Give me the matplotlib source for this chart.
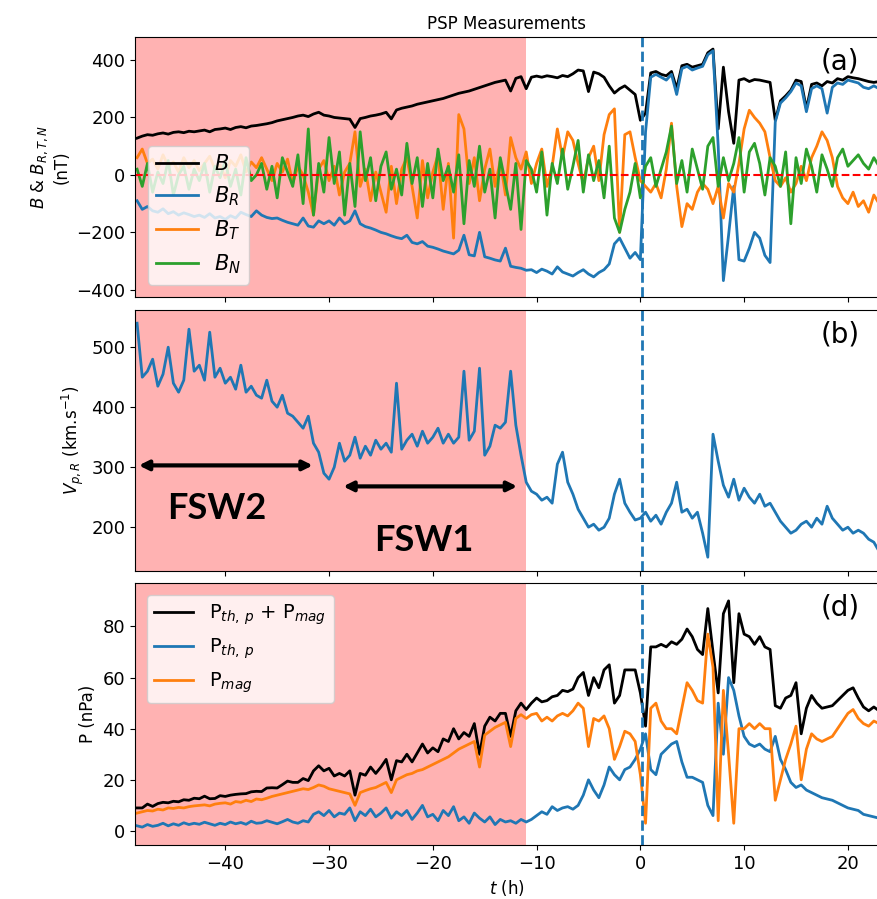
import numpy as np
import matplotlib
matplotlib.use("Agg")
import matplotlib.pyplot as plt

# time grid (hours), 0.5 h steps
t = np.arange(-48.5, 23.01, 0.5)

B = [128, 135, 140, 138, 143, 146, 142, 148, 150, 147, 152, 150,
     153, 156, 150, 158, 160, 163, 158, 165, 168, 164, 170, 172,
     175, 178, 182, 188, 192, 196, 200, 205, 208, 203, 212, 218,
     208, 205, 200, 198, 196, 194, 165, 196, 200, 205, 208, 212,
     218, 195, 226, 232, 236, 240, 246, 250, 254, 258, 262, 266,
     272, 278, 284, 288, 292, 298, 304, 310, 316, 322, 326, 330,
     292, 336, 342, 300, 340, 344, 340, 345, 342, 338, 346, 342,
     352, 365, 362, 290, 358, 352, 340, 310, 285, 300, 310, 295,
     280, 190, 215, 355, 360, 350, 345, 360, 300, 380, 385, 375,
     380, 385, 425, 438, 160, 375, 220, 110, 330, 335, 325, 332,
     330, 326, 322, 190, 258, 275, 295, 330, 325, 230, 315, 320,
     310, 325, 320, 335, 330, 342, 338, 335, 330, 325, 322, 325]

B_R = [-90, -120, -110, -125, -130, -118, -135, -128, -140, -132, -138, -145,
       -140, -148, -135, -150, -145, -155, -142, -150, -130, -138, -145, -125,
       -140, -148, -152, -150, -158, -165, -170, -175, -150, -178, -182, -160,
       -170, -160, -175, -150, -170, -160, -125, -170, -180, -185, -192, -200,
       -205, -212, -218, -222, -210, -235, -240, -232, -248, -252, -258, -265,
       -270, -275, -262, -210, -278, -282, -200, -285, -290, -296, -300, -255,
       -318, -322, -325, -332, -330, -340, -328, -335, -345, -320, -338, -345,
       -352, -340, -330, -345, -355, -340, -330, -310, -240, -220, -255, -290,
       -270, -295, 150, 340, 350, 340, 330, 350, 280, 370, 378, 365,
       372, 378, 418, 432, 100, -368, -210, -40, -295, -300, -255, -200,
       -220, -280, -305, 185, 250, 268, 290, 320, 310, 220, 300, 310,
       300, 215, 305, 320, 315, 330, 325, 320, 305, 300, 310, 300]

B_T = [60, 90, 40, 55, 20, 70, 30, 45, 10, 60, 25, 50,
       15, 40, 65, 20, 35, -10, 50, 30, 70, 10, 45, 25,
       60, 20, -20, 40, 10, 55, -30, 30, 0, -60, -140, 20,
       50, -20, 30, -70, 10, 40, 150, -40, 20, -90, 10, -60,
       -130, 30, -100, 20, 60, -40, -150, 50, -80, 10, 70, -120,
       40, -220, 210, 160, -30, 60, -90, 20, 90, -40, 50, -70,
       130, 60, 20, 80, -30, 40, 90, -40, 30, 160, 60, 150,
       120, 40, -30, 60, 100, -20, 140, 210, 230, -200, 140, 150,
       60, -20, -40, -60, -30, -80, 20, 180, -40, -180, -100, -120,
       -60, -30, -50, -100, -40, -150, -30, -60, 40, 160, 225, 200,
       180, 150, 60, -20, -40, -10, -60, -30, 30, -20, 60, 100,
       150, 120, 60, -40, -80, -100, -60, -110, -90, -130, -70, -100]

B_N = [20, -40, 40, -60, 10, -30, 50, -70, 0, 30, -50, 20,
       -20, 40, -60, 30, -10, 50, -40, 20, -70, 60, -20, 0,
       40, -50, 30, -80, 60, 10, -40, 70, -100, 160, -140, 40,
       -60, 130, -30, 80, -140, 40, -110, 150, -20, 60, -90, 30,
       80, -50, 20, -70, 110, -30, 60, -110, 40, -80, 90, -20,
       30, -60, 70, -170, 50, -40, 100, -60, 20, -150, 60, -30,
       -120, 40, -190, 50, 20, -60, 80, -140, 40, -30, 90, -50,
       30, 120, -60, 70, -20, 50, -80, 100, -150, -200, -120, -60,
       40, -80, 30, 60, -40, 20, 80, 170, -30, 50, -60, 90,
       20, -50, 100, 130, -40, 60, -20, 40, 130, -60, 80, 110,
       40, -70, 60, 30, -40, 80, -170, 60, -30, 90, 30, -60,
       70, 20, -40, 60, 90, 30, 50, 70, 40, 20, 60, 30]

V_pR = [540, 450, 460, 480, 435, 455, 500, 440, 425, 445, 530, 460,
        470, 445, 525, 450, 465, 440, 450, 430, 470, 425, 435, 420,
        415, 445, 410, 400, 420, 390, 385, 375, 365, 385, 340, 325,
        290, 280, 300, 340, 310, 320, 350, 315, 335, 320, 345, 330,
        340, 325, 440, 330, 345, 355, 335, 360, 340, 350, 365, 340,
        355, 340, 350, 460, 345, 360, 465, 320, 335, 370, 365, 375,
        460, 370, 320, 275, 260, 255, 245, 250, 240, 305, 325, 275,
        255, 230, 215, 200, 205, 195, 200, 215, 255, 280, 240, 225,
        212, 215, 225, 210, 220, 205, 225, 240, 275, 225, 230, 215,
        225, 190, 150, 355, 310, 270, 250, 280, 245, 265, 250, 240,
        255, 235, 240, 225, 210, 200, 190, 195, 205, 210, 200, 215,
        205, 235, 215, 205, 195, 200, 190, 195, 190, 180, 175, 160]

P_th = [2.0, 1.5, 2.5, 1.8, 2.2, 3.0, 2.0, 2.8, 2.2, 3.2, 2.5, 3.0,
        2.6, 3.4, 2.8, 2.2, 3.0, 2.5, 3.5, 2.8, 3.3, 2.6, 3.8, 3.0,
        3.2, 4.0, 3.4, 2.8, 3.6, 4.5, 3.5, 3.0, 4.0, 3.5, 6.5, 7.5,
        6.0, 8.0, 5.5, 7.0, 6.5, 9.0, 4.0, 7.5, 6.0, 8.5, 5.5, 7.0,
        9.0, 5.0, 7.5, 6.0, 8.0, 4.5, 7.0, 10.0, 5.5, 6.5, 4.0, 8.0,
        6.0, 9.5, 4.0, 5.5, 3.0, 7.0, 5.0, 3.5, 5.5, 2.5, 4.5, 3.5,
        4.0, 3.0, 4.5, 3.5, 4.5, 6.0, 7.5, 6.5, 9.5, 8.0, 9.0, 9.5,
        8.5, 10.0, 14.0, 20.0, 16.0, 13.0, 18.0, 25.0, 22.0, 20.0, 24.0, 25.0,
        28.0, 32.0, 38.0, 24.0, 22.0, 30.0, 32.0, 34.0, 35.0, 27.0, 21.0, 21.0,
        20.0, 19.0, 10.0, 6.0, 50.0, 30.0, 60.0, 55.0, 45.0, 37.0, 34.0, 33.0,
        34.0, 32.0, 31.0, 37.0, 28.0, 24.0, 19.0, 17.0, 18.0, 16.0, 15.0, 14.0,
        13.0, 12.5, 12.0, 11.0, 10.0, 9.0, 8.5, 8.0, 6.5, 6.0, 5.5, 5.0]

P_mag = [7.0, 7.5, 8.0, 7.8, 8.5, 8.2, 9.0, 8.8, 9.2, 9.0, 9.5, 9.8,
         10.0, 10.2, 9.8, 10.5, 10.8, 11.0, 10.5, 11.5, 11.2, 12.0, 11.5, 12.5,
         12.2, 12.8, 13.5, 14.0, 14.5, 15.0, 15.5, 16.0, 16.5, 16.2, 17.0, 18.0,
         17.5, 16.5, 16.0, 15.5, 15.0, 14.5, 10.0, 15.0, 15.8, 16.5, 17.0, 18.0,
         19.0, 15.0, 20.0, 21.0, 22.0, 22.5, 23.5, 24.0, 25.0, 26.0, 27.0, 28.0,
         29.0, 30.5, 32.0, 33.0, 34.0, 35.0, 25.0, 37.5, 39.0, 40.5, 41.5, 42.5,
         33.0, 44.0, 45.5, 44.0, 45.5, 46.0, 43.0, 44.5, 43.0, 45.0, 46.0, 45.0,
         47.0, 50.0, 48.0, 33.0, 44.0, 43.0, 45.0, 40.0, 28.0, 33.0, 39.0, 38.0,
         35.0, 22.0, 3.0, 48.0, 50.0, 43.0, 40.0, 40.0, 38.0, 48.0, 58.0, 55.0,
         51.0, 50.0, 77.0, 64.0, 4.0, 55.0, 30.0, 3.0, 40.0, 40.0, 42.0, 40.0,
         42.0, 40.0, 40.0, 12.0, 20.0, 28.0, 34.0, 41.0, 20.0, 32.0, 38.0, 36.0,
         35.0, 36.0, 37.0, 40.0, 43.0, 46.0, 47.5, 44.0, 42.0, 41.0, 43.0, 42.0]

P_tot = np.array(P_th) + np.array(P_mag)

t_shock = 0.2
shade = (-48.7, -11.0)
xlim = (-48.7, 22.9)

plt.rcParams['font.family'] = ['DejaVu Sans']
fig = plt.figure(figsize=(8.78, 8.99), dpi=100)
L, W = 135 / 878, (878 - 135) / 878
axa = fig.add_axes([L, 1 - 297 / 899, W, 260 / 899])
axb = fig.add_axes([L, 1 - 571 / 899, W, 261 / 899], sharex=axa)
axd = fig.add_axes([L, 1 - 845 / 899, W, 262 / 899], sharex=axa)

lw = 2.0
tab_blue = '#1f77b4'

# (a)
axa.axvspan(*shade, color='red', alpha=0.3, lw=0)
axa.plot(t, B, color='k', lw=lw, label='$B$')
axa.plot(t, B_R, color=tab_blue, lw=lw, label='$B_R$')
axa.plot(t, B_T, color='#ff7f0e', lw=lw, label='$B_T$')
axa.plot(t, B_N, color='#2ca02c', lw=lw, label='$B_N$')
axa.axhline(0, color='red', ls='--', lw=1.5)
axa.set_ylim(-425, 480)
axa.set_yticks([-400, -200, 0, 200, 400])
axa.set_ylabel('$B$ & $B_{R,T,N}$\n(nT)', fontsize=12)
axa.set_title('PSP Measurements', fontsize=12)
axa.legend(loc='lower left', fontsize=15, handlelength=2.0, borderaxespad=0.6)
axa.text(0.975, 0.96, '(a)', transform=axa.transAxes, ha='right', va='top', fontsize=20)

# (b)
axb.axvspan(*shade, color='red', alpha=0.3, lw=0)
axb.plot(t, V_pR, color=tab_blue, lw=lw)
axb.set_ylim(127, 562)
axb.set_yticks([200, 300, 400, 500])
axb.set_ylabel('$V_{p,R}$ (km.s$^{-1}$)', fontsize=12)
axb.text(0.975, 0.96, '(b)', transform=axb.transAxes, ha='right', va='top', fontsize=20)
axb.annotate('', xy=(-48.6, 303), xytext=(-31.3, 303), annotation_clip=False,
             arrowprops=dict(arrowstyle='<|-|>', color='k', lw=3, mutation_scale=14))
axb.annotate('', xy=(-28.9, 268), xytext=(-11.6, 268), annotation_clip=False,
             arrowprops=dict(arrowstyle='<|-|>', color='k', lw=3, mutation_scale=14))
axb.text(-40.8, 231, 'FSW2', ha='center', va='center', fontsize=26,
         fontweight='bold', family=['Lato', 'DejaVu Sans'])
axb.text(-20.9, 178, 'FSW1', ha='center', va='center', fontsize=26,
         fontweight='bold', family=['Lato', 'DejaVu Sans'])

# (d)
axd.axvspan(*shade, color='red', alpha=0.3, lw=0)
axd.plot(t, P_tot, color='k', lw=lw, label='P$_{th,\\,p}$ + P$_{mag}$')
axd.plot(t, P_th, color=tab_blue, lw=lw, label='P$_{th,\\,p}$')
axd.plot(t, P_mag, color='#ff7f0e', lw=lw, label='P$_{mag}$')
axd.set_ylim(-5.5, 97)
axd.set_yticks([0, 20, 40, 60, 80])
axd.set_ylabel('P (nPa)', fontsize=12)
axd.set_xlabel('$t$ (h)', fontsize=12)
axd.legend(loc='upper left', fontsize=14, handlelength=2.0, borderaxespad=0.6)
axd.text(0.975, 0.96, '(d)', transform=axd.transAxes, ha='right', va='top', fontsize=20)

for ax in (axa, axb, axd):
    ax.axvline(t_shock, color=tab_blue, ls='--', lw=2)
    ax.set_xlim(*xlim)
    ax.set_xticks([-40, -30, -20, -10, 0, 10, 20])
    ax.tick_params(labelsize=13)
for ax in (axa, axb):
    ax.tick_params(labelbottom=False)

fig.savefig('out.png', dpi=100)
